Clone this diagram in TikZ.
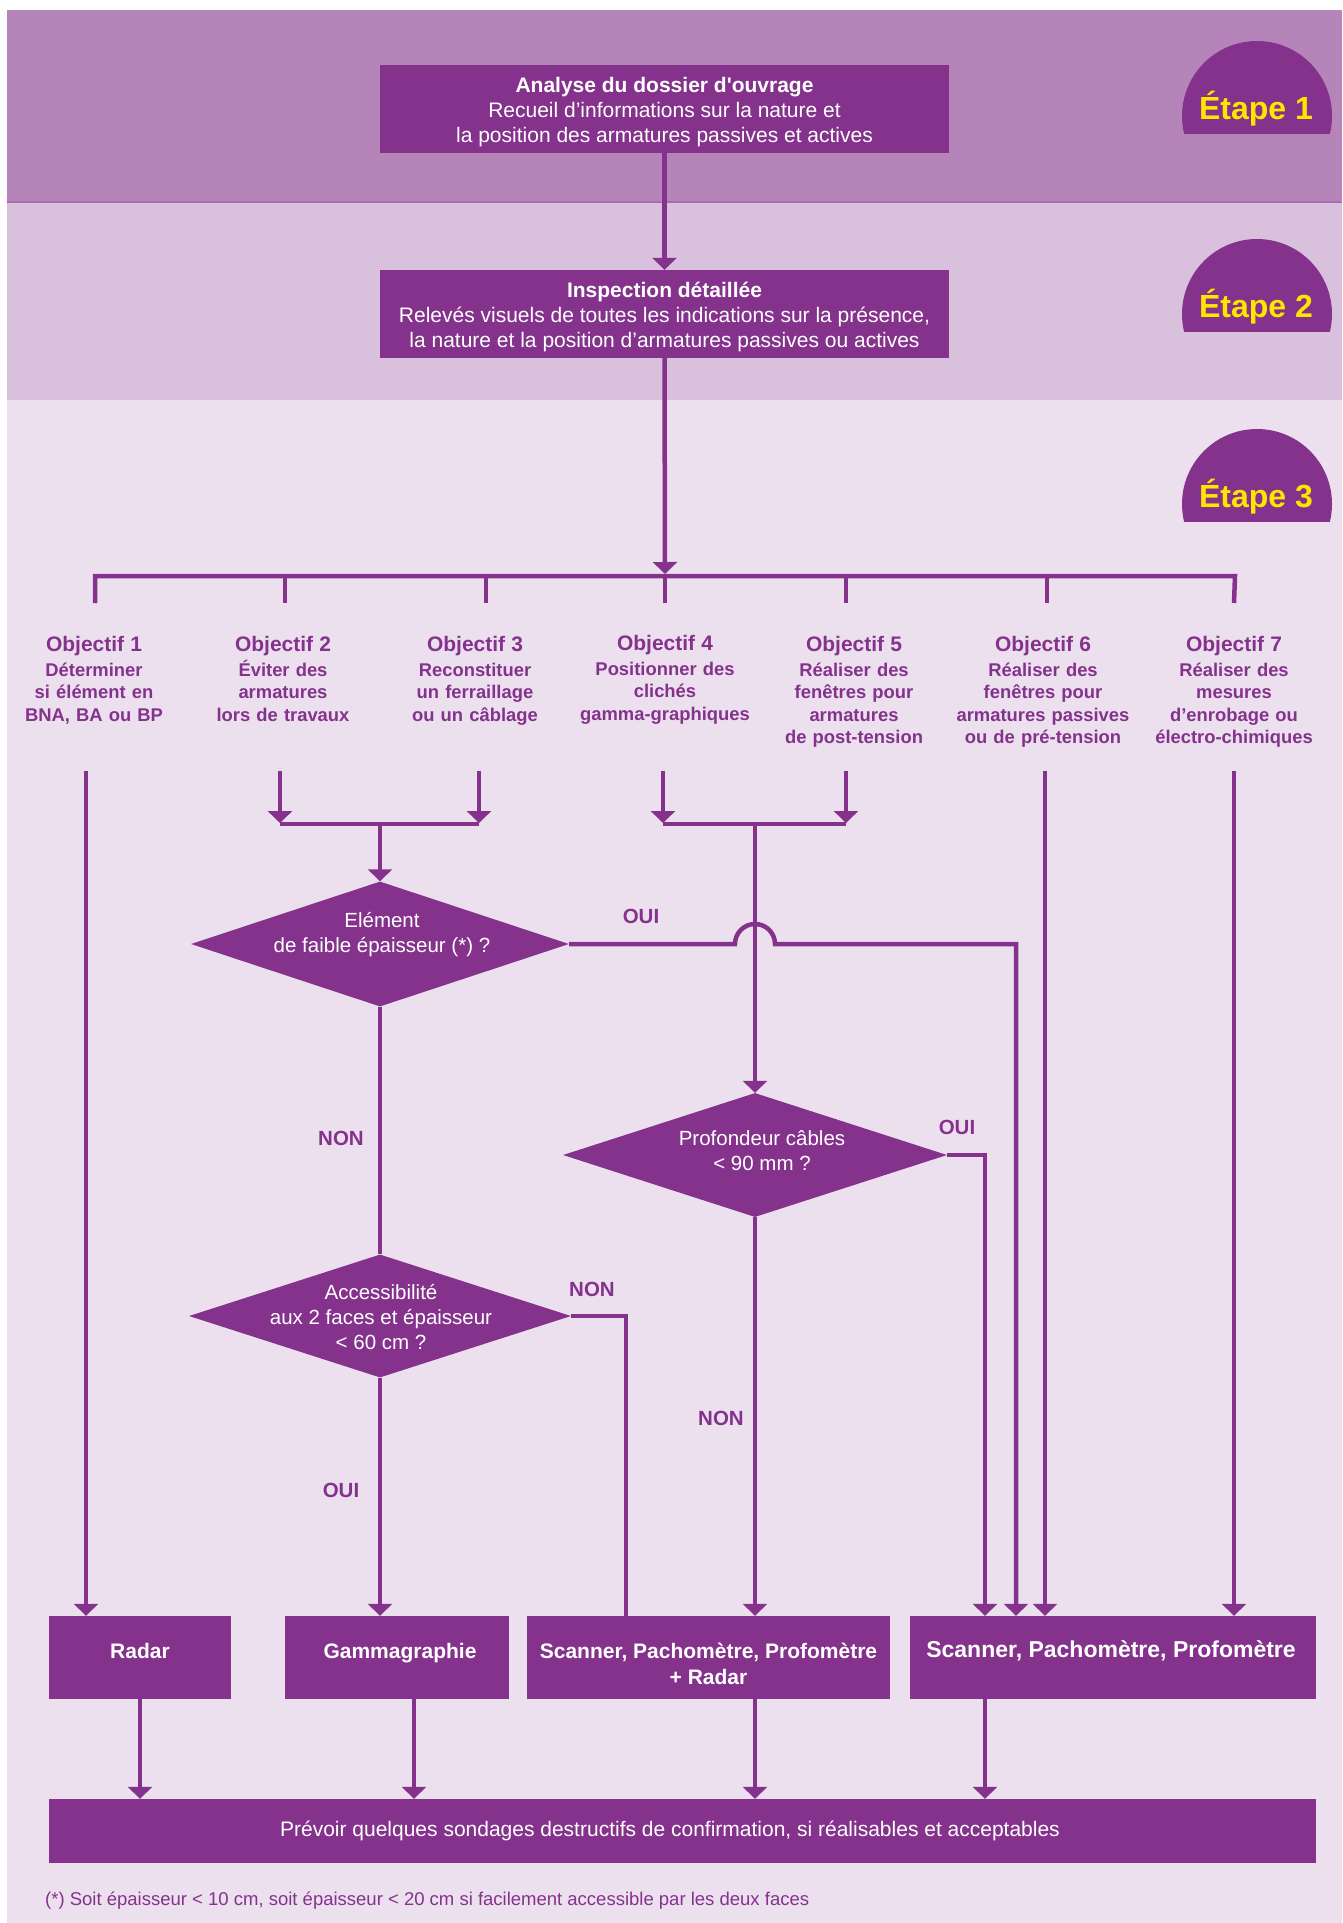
\documentclass[tikz,border=0pt]{standalone}
\usepackage{fontspec}
\setmainfont{Liberation Sans}
\usetikzlibrary{arrows.meta,shapes.geometric}
\definecolor{pv}{HTML}{84328C}
\definecolor{bandA}{HTML}{B585BA}
\definecolor{bandB}{HTML}{D9C1DD}
\definecolor{bandC}{HTML}{ECE0EF}
\definecolor{sepline}{HTML}{A86CB0}
\definecolor{yel}{HTML}{FFE500}
\begin{document}
\begin{tikzpicture}[x=1pt,y=-1pt,
  conn/.style={draw=pv,line width=4.5pt},
  arr/.style={conn,-{Triangle[width=24pt,length=12pt]}},
  box/.style={fill=pv,inner sep=0pt},
  boxtxt/.style={text=white,inner sep=0pt,align=center},
  dia/.style={diamond,fill=pv,inner sep=0pt},
  diatxt/.style={text=white,align=center,inner sep=0pt,font=\fontsize{20.5}{25}\selectfont},
  lbl/.style={text=pv,inner sep=0pt,font=\fontsize{20.5}{25}\selectfont\bfseries},
  obj/.style={text=pv,align=center,text width=184pt,inner sep=0pt,anchor=north,font=\fontsize{18.4}{22.5}\selectfont\bfseries},
  etape/.style={text=yel,font=\fontsize{32}{36}\selectfont\bfseries,anchor=base,inner sep=0pt}]

\useasboundingbox (0,0) rectangle (1342,1923);
\fill[white] (0,0) rectangle (1342,1923);
\fill[bandA] (7,10) rectangle (1342,203);
\fill[bandB] (7,203) rectangle (1342,400);
\fill[bandC] (7,400) rectangle (1342,1923);
\draw[sepline,line width=2pt] (7,202) -- (1342,202);

% badges
\foreach \cy/\n in {116/1,314/2,504/3}{
  \begin{scope}
    \clip (1150,\cy-80) rectangle (1342,\cy+17);
    \fill[pv] (1257,\cy) circle[radius=75pt];
  \end{scope}
  \node[etape] (et\n) at (1256,\cy+3) {Étape \n};
}

% top boxes
\node[box,minimum width=569pt,minimum height=88pt] (b1) at (664.5,109) {};
\node[boxtxt,font=\fontsize{21}{25}\selectfont] (b1t) at (664.5,112)
  {\textbf{Analyse du dossier d\textquotesingle ouvrage}\\Recueil d’informations sur la nature et\\la position des armatures passives et actives};
\node[box,minimum width=569pt,minimum height=88pt] (b2) at (664.5,314) {};
\node[boxtxt,font=\fontsize{21}{25}\selectfont] (b2t) at (664.5,317)
  {\textbf{Inspection détaillée}\\Relevés visuels de toutes les indications sur la présence,\\la nature et la position d’armatures passives ou actives};

% objectives
\node[obj] (o1) at (94,636) {{\fontsize{21}{25}\selectfont Objectif 1}\\[2.5pt]Déterminer\\si élément en\\BNA, BA ou BP};
\node[obj] (o2) at (283,636) {{\fontsize{21}{25}\selectfont Objectif 2}\\[2.5pt]Éviter des\\armatures\\lors de travaux};
\node[obj] (o3) at (475,636) {{\fontsize{21}{25}\selectfont Objectif 3}\\[2.5pt]Reconstituer\\un ferraillage\\ou un câblage};
\node[obj] (o4) at (665,635) {{\fontsize{21}{25}\selectfont Objectif 4}\\[2.5pt]Positionner des\\clichés\\gamma-graphiques};
\node[obj] (o5) at (854,636) {{\fontsize{21}{25}\selectfont Objectif 5}\\[2.5pt]Réaliser des\\fenêtres pour\\armatures\\de post-tension};
\node[obj] (o6) at (1043,636) {{\fontsize{21}{25}\selectfont Objectif 6}\\[2.5pt]Réaliser des\\fenêtres pour\\armatures passives\\ou de pré-tension};
\node[obj] (o7) at (1234,636) {{\fontsize{21}{25}\selectfont Objectif 7}\\[2.5pt]Réaliser des\\mesures\\d’enrobage ou\\électro-chimiques};

% diamonds
\node[dia,minimum width=378pt,minimum height=125pt] (d1) at (380,944) {};
\node[diatxt] (d1t) at (382,935) {Elément\\de faible épaisseur (*) ?};
\node[dia,minimum width=384pt,minimum height=124pt] (d2) at (755,1155) {};
\node[diatxt] (d2t) at (762,1151) {Profondeur câbles\\< 90 mm ?};
\node[dia,minimum width=382pt,minimum height=123pt] (d3) at (380,1316) {};
\node[diatxt] (d3t) at (381,1317) {Accessibilité\\aux 2 faces et épaisseur\\< 60 cm ?};

% decision labels
\node[lbl] (oui1) at (641,916) {OUI};
\node[lbl] (non1) at (341,1138) {NON};
\node[lbl] (oui2) at (957,1127) {OUI};
\node[lbl] (non2) at (592,1289) {NON};
\node[lbl] (non3) at (721,1418) {NON};
\node[lbl] (oui3) at (341,1490) {OUI};

% result boxes
\node[box,minimum width=182pt,minimum height=83pt] (radar) at (140,1657.5) {};
\node[boxtxt,font=\fontsize{21}{26}\selectfont\bfseries] (radart) at (140,1651) {Radar};
\node[box,minimum width=224pt,minimum height=83pt] (gamma) at (397,1657.5) {};
\node[boxtxt,font=\fontsize{21}{26}\selectfont\bfseries] (gammat) at (400,1653) {Gammagraphie};
\node[box,minimum width=363pt,minimum height=83pt] (scanr) at (708.5,1657.5) {};
\node[boxtxt,font=\fontsize{21}{26}\selectfont\bfseries] (scanrt) at (708.5,1663.5) {Scanner, Pachomètre, Profomètre\\+ Radar};
\node[box,minimum width=406pt,minimum height=83pt] (scan) at (1113,1657.5) {};
\node[boxtxt,font=\fontsize{23}{27}\selectfont\bfseries] (scant) at (1111,1650.5) {Scanner, Pachomètre, Profomètre};
\node[box,minimum width=1267pt,minimum height=64pt] (final) at (682.5,1831) {};
\node[boxtxt,font=\fontsize{21}{25}\selectfont] (finalt) at (670,1831)
  {Prévoir quelques sondages destructifs de confirmation, si réalisables et acceptables};

\node[text=pv,anchor=base west,inner sep=0pt,font=\fontsize{18.5}{22}\selectfont] (foot) at (45,1905)
  {(*) Soit épaisseur < 10 cm, soit épaisseur < 20 cm si facilement accessible par les deux faces};

% coordinates
\coordinate (busin) at (665,574);
\coordinate (busL) at (95,576);
\coordinate (busR) at (1235,576);
\foreach \i/\x in {1/95,2/285,3/486,4/665,5/846,6/1047,7/1234}{
  \coordinate (dr\i) at (\x,603);
}
\coordinate (dt4) at (665,576);
\coordinate (o1s) at (86,771);
\coordinate (o2s) at (280,771);
\coordinate (o3s) at (479,771);
\coordinate (o4s) at (663,771);
\coordinate (o5s) at (846,771);
\coordinate (o6s) at (1045,771);
\coordinate (o7s) at (1234,771);
\coordinate (j1L) at (280,824);
\coordinate (j1R) at (479,824);
\coordinate (j1M) at (380,824);
\coordinate (j2L) at (663,824);
\coordinate (j2R) at (846,824);
\coordinate (j2M) at (755,824);
\coordinate (jmp) at (735,944);
\coordinate (c1) at (1016,944);
\coordinate (c2) at (985,1155);
\coordinate (c3) at (626,1316);
\coordinate (g1) at (414,1699);

% connectors top
\draw[arr] (b1.south) -- (b2.north);
\draw[arr] (b2.south) -- (busin);
\draw[conn] (dr1) -- (busL) -- (busR) -- (dr7);
\foreach \i in {2,3,5,6}{ \draw[conn] (dr\i |- busL) -- (dr\i); }
\draw[conn] (dt4) -- (dr4);

% objectives down
\draw[arr] (o1s) -- (o1s |- radar.north);
\draw[arr] (o2s) -- ([yshift=1pt]j1L);
\draw[arr] (o3s) -- ([yshift=1pt]j1R);
\draw[conn] (j1L) -- (j1R);
\draw[arr] (j1M) -- (d1.north);
\draw[arr] (o4s) -- ([yshift=1pt]j2L);
\draw[arr] (o5s) -- ([yshift=1pt]j2R);
\draw[conn] (j2L) -- (j2R);
\draw[arr] (j2M) -- (d2.north);
\draw[arr] (o6s) -- (o6s |- scan.north);
\draw[arr] (o7s) -- (o7s |- scan.north);

% decisions
\draw[arr] (d1.east) -- (jmp) arc[start angle=180,end angle=0,radius=20pt] -- (c1) -- (c1 |- scan.north);
\draw[conn] (d1.south) -- (d3.north);
\draw[arr] (d3.south) -- (d3.south |- gamma.north);
\draw[conn] (d3.east) -- (c3) -- ([yshift=-2pt]c3 |- scanr.north);
\draw[arr] (d2.east) -- (c2) -- (c2 |- scan.north);
\draw[arr] (d2.south) -- (d2.south |- scanr.north);

% to final
\draw[arr] (radar.south) -- (radar.south |- final.north);
\draw[arr] (g1) -- (g1 |- final.north);
\draw[arr] (d2.south |- scanr.south) -- (d2.south |- final.north);
\draw[arr] (c2 |- scan.south) -- (c2 |- final.north);
\end{tikzpicture}
\end{document}
